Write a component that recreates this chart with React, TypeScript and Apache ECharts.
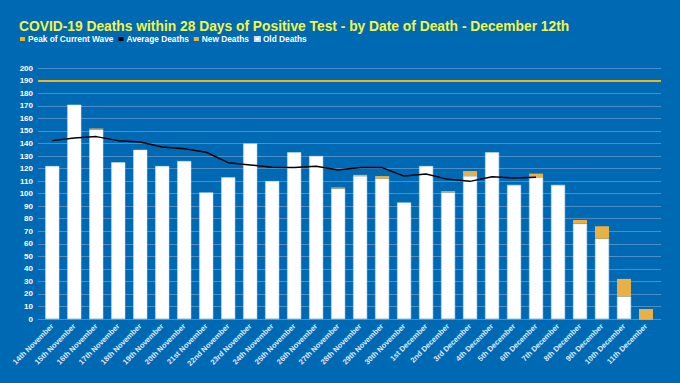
import React, { useEffect, useRef } from "react";
import * as echarts from "echarts";

const categories = [
  "14th November", "15th November", "16th November", "17th November", "18th November",
  "19th November", "20th November", "21st November", "22nd November", "23rd November",
  "24th November", "25th November", "26th November", "27th November", "28th November",
  "29th November", "30th November", "1st December", "2nd December", "3rd December",
  "4th December", "5th December", "6th December", "7th December", "8th December",
  "9th December", "10th December", "11th December",
];

const oldDeaths = [122, 171, 151, 125, 135, 122, 126, 101, 113, 140, 110, 133, 130, 104, 114, 112, 93, 122, 101, 114, 133, 107, 113, 107, 76, 64, 18, 0];
const newDeaths = [0, 0, 1, 0, 0, 0, 0, 0, 0, 0, 0, 0, 0, 1, 1, 2, 0, 0, 1, 4, 0, 0, 3, 0, 3, 10, 14, 8];
const averageDeaths = [142.3, 144.4, 145.5, 142.3, 141.2, 137.2, 135.9, 133, 124.7, 122.9, 121, 120.8, 121.8, 118.9, 120.8, 120.8, 114, 115.7, 111.4, 109.8, 113.5, 112.5, 113, null, null, null, null, null];
const peakOfWave = 190;

const BG = "#0069b4";
const ORANGE_LINE = "#f2b316";
const ORANGE_BAR = "#e8b045";
const FONT = "Liberation Sans";

export default function App() {
  const ref = useRef<HTMLDivElement>(null);
  useEffect(() => {
    document.body.style.margin = "0";
    const chart = echarts.init(ref.current!, null, { renderer: "svg" });
    chart.setOption({
      animation: false,
      backgroundColor: BG,
      title: {
        text: "COVID-19 Deaths within 28 Days of Positive Test - by Date of Death - December 12th",
        left: 19,
        top: 19,
        padding: 0,
        textStyle: { color: "#f2f545", fontSize: 13.8, fontWeight: "bold", fontFamily: FONT },
      },
      legend: {
        left: 20,
        top: 35,
        padding: 0,
        itemWidth: 5,
        itemHeight: 4,
        itemGap: 5,
        icon: "rect",
        textStyle: { color: "#ffffff", fontSize: 8.3, fontWeight: "bold", fontFamily: FONT, padding: [0, 0, 0, -2] },
        data: [
          { name: "Peak of Current Wave", itemStyle: { color: ORANGE_LINE } },
          { name: "Average Deaths", itemStyle: { color: "#000000" } },
          { name: "New Deaths", itemStyle: { color: ORANGE_BAR } },
          { name: "Old Deaths", itemStyle: { color: "#ffffff" } },
        ],
      },
      grid: [
        { left: 38, right: 19, top: 68.3, bottom: 64 },
        { left: 41.3, right: 23, top: 68.3, bottom: 64 },
      ],
      xAxis: [
        { type: "category", gridIndex: 0, data: categories, show: false },
        {
          type: "category",
          gridIndex: 1,
          data: categories,
          axisLine: { show: false },
          axisTick: { show: false },
          axisLabel: {
            rotate: 45,
            interval: 0,
            margin: 6,
            color: "#dfeaf6",
            fontSize: 7.5,
            fontWeight: "bold",
            fontFamily: FONT,
          },
        },
      ],
      yAxis: [
        {
          type: "value",
          gridIndex: 0,
          min: 0,
          max: 200,
          interval: 10,
          axisLine: { show: false },
          axisTick: { show: false },
          axisLabel: { color: "#ffffff", fontSize: 8, fontWeight: "bold", fontFamily: FONT, margin: 5 },
          splitLine: { lineStyle: { color: "#4b8fca", width: 1 } },
        },
        { type: "value", gridIndex: 1, min: 0, max: 200, interval: 10, show: false, splitLine: { show: false } },
      ],
      series: [
        {
          name: "Old Deaths",
          type: "bar",
          xAxisIndex: 1,
          yAxisIndex: 1,
          stack: "deaths",
          barWidth: 14,
          data: oldDeaths,
          itemStyle: { color: "#ffffff", borderColor: "#cfe0f2", borderWidth: 0.5 },
        },
        {
          name: "New Deaths",
          type: "bar",
          xAxisIndex: 1,
          yAxisIndex: 1,
          stack: "deaths",
          barWidth: 14,
          data: newDeaths,
          itemStyle: { color: ORANGE_BAR },
        },
        {
          name: "Average Deaths",
          type: "line",
          xAxisIndex: 1,
          yAxisIndex: 1,
          data: averageDeaths,
          showSymbol: false,
          symbol: "none",
          lineStyle: { color: "#000000", width: 1.5 },
          itemStyle: { color: "#000000" },
        },
        {
          name: "Peak of Current Wave",
          type: "line",
          xAxisIndex: 0,
          yAxisIndex: 0,
          data: [],
          symbol: "none",
          itemStyle: { color: ORANGE_LINE },
          lineStyle: { color: ORANGE_LINE },
          markLine: {
            silent: true,
            symbol: "none",
            label: { show: false },
            lineStyle: { color: ORANGE_LINE, width: 2, type: "solid" },
            data: [{ yAxis: peakOfWave }],
          },
        },
      ],
    });
    return () => chart.dispose();
  }, []);
  return <div ref={ref} style={{ width: 680, height: 383 }} />;
}
